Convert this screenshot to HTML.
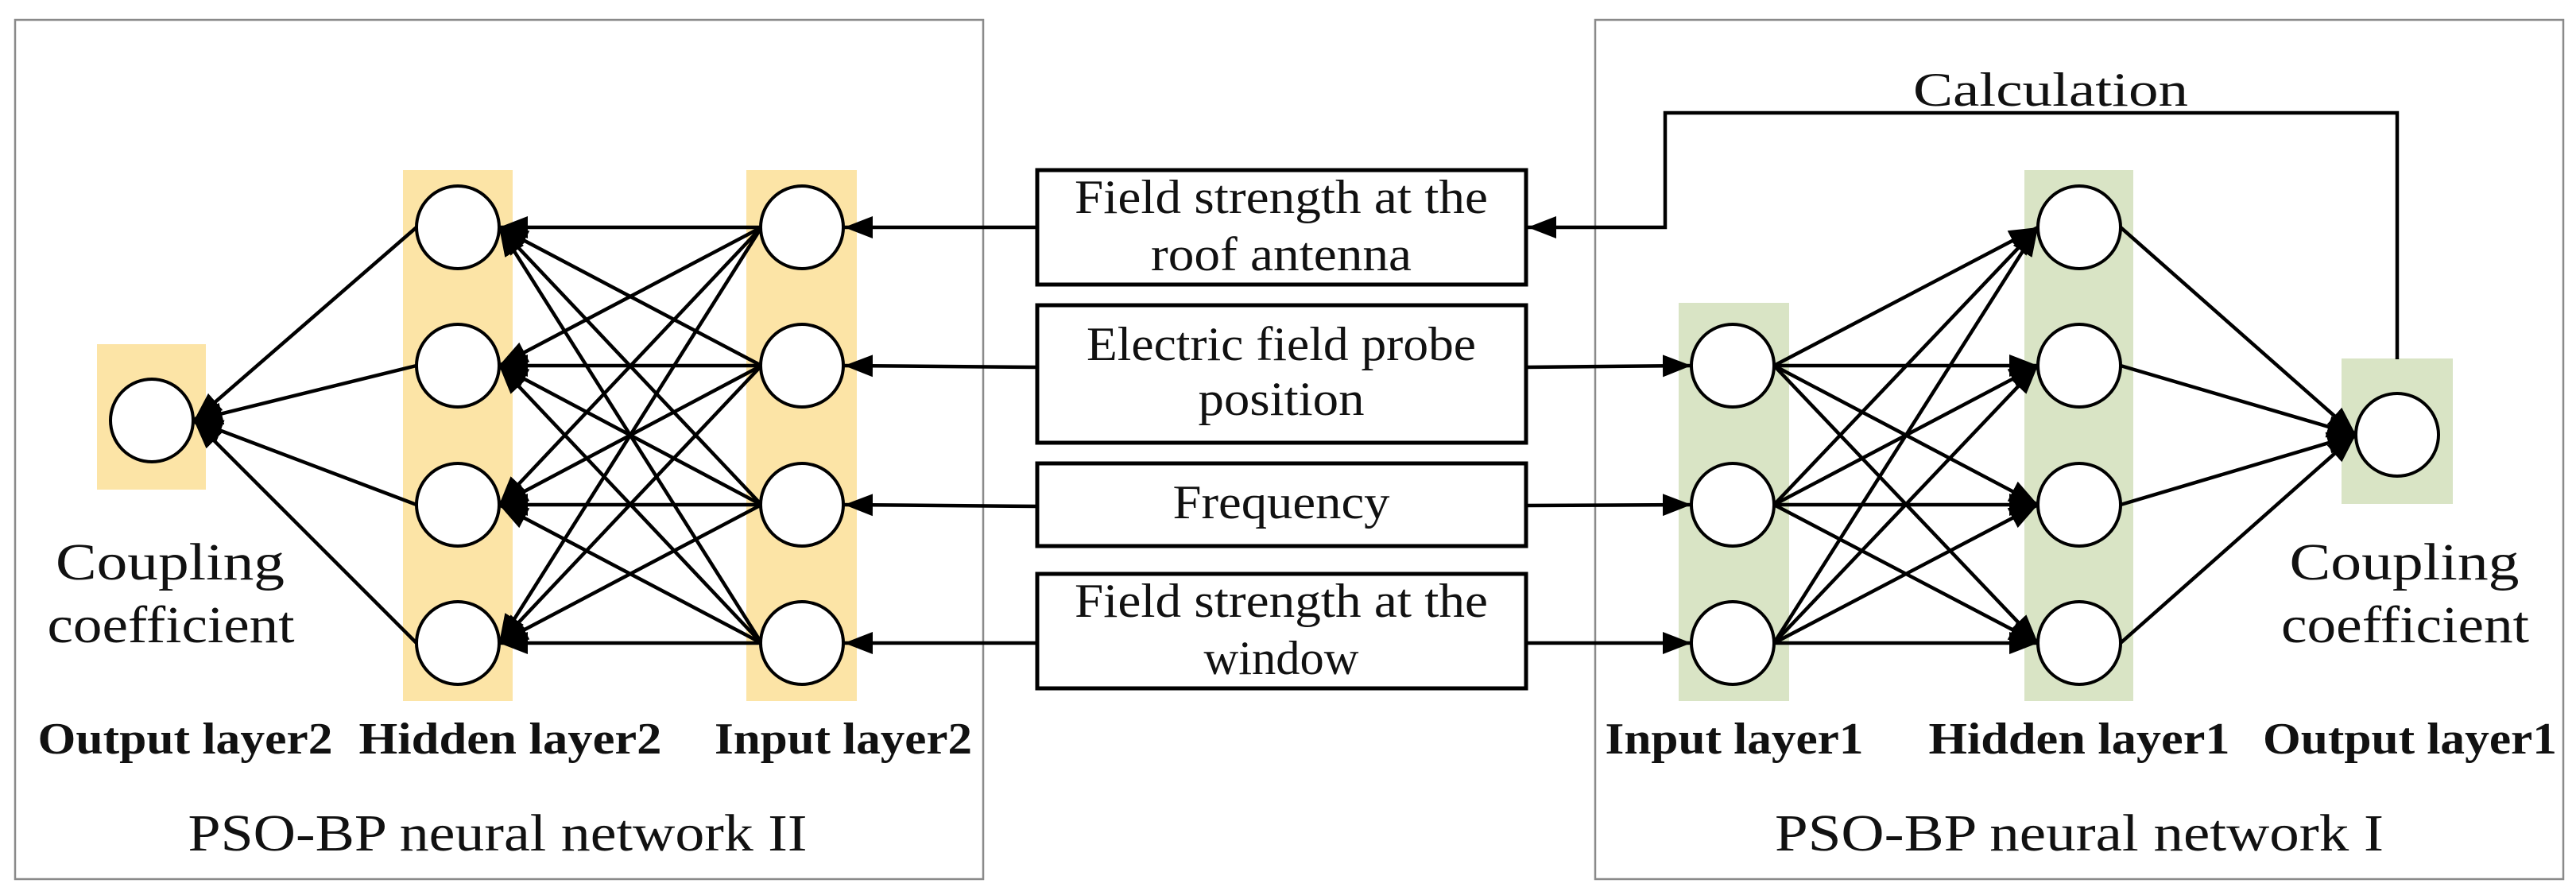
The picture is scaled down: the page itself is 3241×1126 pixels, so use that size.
<!DOCTYPE html>
<html><head><meta charset="utf-8"><style>html,body{margin:0;padding:0;background:#fff}svg{display:block}</style></head>
<body>
<svg width="3241" height="1126" viewBox="0 0 3241 1126" xmlns="http://www.w3.org/2000/svg" font-family="'Liberation Serif', serif">
<defs>
<marker id="a" markerUnits="userSpaceOnUse" markerWidth="40" markerHeight="30" refX="36" refY="14" orient="auto">
<path d="M0,0 L36,14 L0,28 z" fill="#000"/></marker>
</defs>
<rect x="0" y="0" width="3241" height="1126" fill="#fff"/>
<rect x="19" y="25" width="1218" height="1081" fill="none" stroke="#8a8a8a" stroke-width="2.5"/>
<rect x="2007" y="25" width="1218" height="1081" fill="none" stroke="#8a8a8a" stroke-width="2.5"/>
<g fill="#fce4a6">
<rect x="122" y="433" width="137" height="183"/>
<rect x="507" y="214" width="138" height="668"/>
<rect x="939" y="214" width="139" height="668"/>
</g>
<g fill="#d9e4c5">
<rect x="2112" y="381" width="139" height="501"/>
<rect x="2547" y="214" width="137" height="668"/>
<rect x="2946" y="451" width="140" height="183"/>
</g>
<g stroke="#000" stroke-width="4.5" fill="none" marker-end="url(#a)">
<line x1="958" y1="286" x2="628" y2="286"/><line x1="958" y1="286" x2="628" y2="460"/><line x1="958" y1="286" x2="628" y2="635"/><line x1="958" y1="286" x2="628" y2="809"/>
<line x1="958" y1="460" x2="628" y2="286"/><line x1="958" y1="460" x2="628" y2="460"/><line x1="958" y1="460" x2="628" y2="635"/><line x1="958" y1="460" x2="628" y2="809"/>
<line x1="958" y1="635" x2="628" y2="286"/><line x1="958" y1="635" x2="628" y2="460"/><line x1="958" y1="635" x2="628" y2="635"/><line x1="958" y1="635" x2="628" y2="809"/>
<line x1="958" y1="809" x2="628" y2="286"/><line x1="958" y1="809" x2="628" y2="460"/><line x1="958" y1="809" x2="628" y2="635"/><line x1="958" y1="809" x2="628" y2="809"/>
<line x1="524" y1="286" x2="244" y2="529"/><line x1="524" y1="460" x2="244" y2="529"/><line x1="524" y1="635" x2="244" y2="529"/><line x1="524" y1="809" x2="244" y2="529"/>
<line x1="1305" y1="286" x2="1062" y2="286"/><line x1="1305" y1="462" x2="1062" y2="460"/><line x1="1305" y1="637" x2="1062" y2="635"/><line x1="1305" y1="809" x2="1062" y2="809"/>
<line x1="1920" y1="462" x2="2128" y2="460"/><line x1="1920" y1="636" x2="2128" y2="635"/><line x1="1920" y1="809" x2="2128" y2="809"/>
<line x1="2232" y1="460" x2="2564" y2="286"/><line x1="2232" y1="460" x2="2564" y2="460"/><line x1="2232" y1="460" x2="2564" y2="635"/><line x1="2232" y1="460" x2="2564" y2="809"/>
<line x1="2232" y1="635" x2="2564" y2="286"/><line x1="2232" y1="635" x2="2564" y2="460"/><line x1="2232" y1="635" x2="2564" y2="635"/><line x1="2232" y1="635" x2="2564" y2="809"/>
<line x1="2232" y1="809" x2="2564" y2="286"/><line x1="2232" y1="809" x2="2564" y2="460"/><line x1="2232" y1="809" x2="2564" y2="635"/><line x1="2232" y1="809" x2="2564" y2="809"/>
<line x1="2668" y1="286" x2="2964" y2="547"/><line x1="2668" y1="460" x2="2964" y2="547"/><line x1="2668" y1="635" x2="2964" y2="547"/><line x1="2668" y1="809" x2="2964" y2="547"/>
<polyline points="3016,452 3016,142 2095,142 2095,286 1922,286"/>
</g>
<g fill="#fff" stroke="#000" stroke-width="4">
<circle cx="191" cy="529" r="52"/>
<circle cx="576" cy="286" r="52"/><circle cx="576" cy="460" r="52"/><circle cx="576" cy="635" r="52"/><circle cx="576" cy="809" r="52"/>
<circle cx="1009" cy="286" r="52"/><circle cx="1009" cy="460" r="52"/><circle cx="1009" cy="635" r="52"/><circle cx="1009" cy="809" r="52"/>
<circle cx="2180" cy="460" r="52"/><circle cx="2180" cy="635" r="52"/><circle cx="2180" cy="809" r="52"/>
<circle cx="2616" cy="286" r="52"/><circle cx="2616" cy="460" r="52"/><circle cx="2616" cy="635" r="52"/><circle cx="2616" cy="809" r="52"/>
<circle cx="3016" cy="547" r="52"/>
</g>
<g fill="#fff" stroke="#000" stroke-width="5">
<rect x="1305" y="214" width="615" height="144"/>
<rect x="1305" y="384" width="615" height="173"/>
<rect x="1305" y="583" width="615" height="104"/>
<rect x="1305" y="722" width="615" height="144"/>
</g>
<g font-size="60" text-anchor="middle" fill="#111">
<text x="1612" y="268" textLength="520" lengthAdjust="spacingAndGlyphs">Field strength at the</text>
<text x="1612" y="340" textLength="328" lengthAdjust="spacingAndGlyphs">roof antenna</text>
<text x="1612" y="453" textLength="490" lengthAdjust="spacingAndGlyphs">Electric field probe</text>
<text x="1612" y="522" textLength="209" lengthAdjust="spacingAndGlyphs">position</text>
<text x="1612" y="652" textLength="273" lengthAdjust="spacingAndGlyphs">Frequency</text>
<text x="1612" y="776" textLength="520" lengthAdjust="spacingAndGlyphs">Field strength at the</text>
<text x="1612" y="848" textLength="195" lengthAdjust="spacingAndGlyphs">window</text>
<text x="2580" y="133" textLength="346" lengthAdjust="spacingAndGlyphs">Calculation</text>
</g>
<g font-size="66" text-anchor="middle" fill="#111">
<text x="214" y="729" textLength="288" lengthAdjust="spacingAndGlyphs">Coupling</text>
<text x="215" y="808" textLength="311" lengthAdjust="spacingAndGlyphs">coefficient</text>
<text x="3025" y="729" textLength="289" lengthAdjust="spacingAndGlyphs">Coupling</text>
<text x="3026" y="808" textLength="312" lengthAdjust="spacingAndGlyphs">coefficient</text>
<text x="626" y="1070" textLength="779" lengthAdjust="spacingAndGlyphs">PSO-BP neural network II</text>
<text x="2616" y="1070" textLength="766" lengthAdjust="spacingAndGlyphs">PSO-BP neural network I</text>
</g>
<g font-size="56" font-weight="bold" text-anchor="middle" fill="#111">
<text x="233" y="948" textLength="371" lengthAdjust="spacingAndGlyphs">Output layer2</text>
<text x="642" y="948" textLength="381" lengthAdjust="spacingAndGlyphs">Hidden layer2</text>
<text x="1061" y="948" textLength="324" lengthAdjust="spacingAndGlyphs">Input layer2</text>
<text x="2182" y="948" textLength="325" lengthAdjust="spacingAndGlyphs">Input layer1</text>
<text x="2616" y="948" textLength="379" lengthAdjust="spacingAndGlyphs">Hidden layer1</text>
<text x="3032" y="948" textLength="370" lengthAdjust="spacingAndGlyphs">Output layer1</text>
</g>
</svg>
</body></html>
